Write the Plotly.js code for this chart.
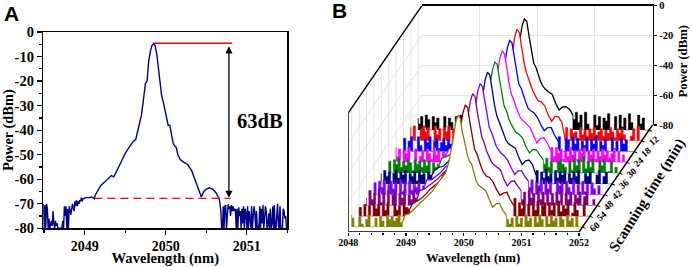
<!DOCTYPE html>
<html><head><meta charset="utf-8">
<script src="https://cdn.plot.ly/plotly-3.0.1.min.js"></script>
<style>html,body{margin:0;padding:0;background:#fff}</style></head>
<body><div id="c" style="width:692px;height:267px"></div>
<script>
// Panel A spectrum
const aWave = [2048.49,2048.50,2048.51,2048.52,2048.53,2048.54,2048.55,2048.56,2048.57,2048.58,2048.59,2048.60,2048.61,2048.62,2048.63,2048.64,2048.65,2048.66,2048.67,2048.68,2048.70,2048.72,2048.73,2048.74,2048.75,2048.76,2048.77,2048.78,2048.79,2048.80,2048.81,2048.82,2048.83,2048.84,2048.85,2048.86,2048.87,2048.88,2048.89,2048.90,2048.91,2048.92,2048.93,2048.94,2048.95,2048.96,2048.97,2048.98,2049.00,2049.02,2049.05,2049.08,2049.10,2049.12,2049.13,2049.16,2049.20,2049.25,2049.30,2049.33,2049.36,2049.40,2049.45,2049.50,2049.55,2049.60,2049.63,2049.66,2049.70,2049.72,2049.74,2049.75,2049.77,2049.79,2049.81,2049.83,2049.85,2049.87,2049.89,2049.91,2049.93,2049.95,2049.97,2049.99,2050.01,2050.03,2050.05,2050.07,2050.09,2050.11,2050.13,2050.15,2050.18,2050.22,2050.27,2050.32,2050.36,2050.40,2050.44,2050.47,2050.50,2050.54,2050.58,2050.62,2050.66,2050.67,2050.68,2050.69,2050.70,2050.71,2050.72,2050.73,2050.74,2050.75,2050.76,2050.77,2050.78,2050.79,2050.80,2050.81,2050.82,2050.83,2050.84,2050.85,2050.86,2050.87,2050.88,2050.89,2050.90,2050.91,2050.92,2050.93,2050.94,2050.95,2050.96,2050.97,2050.98,2050.99,2051.00,2051.01,2051.02,2051.03,2051.04,2051.05,2051.06,2051.07,2051.08,2051.09,2051.10,2051.11,2051.12,2051.13,2051.14,2051.15,2051.16,2051.17,2051.18,2051.19,2051.20,2051.21,2051.22,2051.23,2051.24,2051.25,2051.26,2051.27,2051.28,2051.29,2051.30,2051.31,2051.32,2051.33,2051.34,2051.35,2051.36,2051.37,2051.38,2051.39,2051.40,2051.41,2051.42,2051.43,2051.44,2051.45,2051.46,2051.47,2051.48,2051.49];
const aPower = [-70,-80,-70.5,-80,-70,-72,-80,-76,-80,-78,-77,-79,-73,-78,-80,-77,-79,-78,-80,-80,-80,-80,-77,-80,-71,-75,-71,-80,-72,-80,-71,-73,-74.5,-72,-70,-72,-73,-69,-71,-68.5,-71,-69,-70,-68.5,-69,-67.5,-69,-68,-67.7,-67.4,-67.6,-67.2,-67.5,-68,-66.5,-64.5,-62.5,-61,-59.2,-58.5,-59,-56.5,-53,-49.5,-47,-44.5,-43.8,-40,-34,-29,-24,-21,-20,-12,-8,-5.5,-4.8,-5.5,-9,-14,-21,-26,-28.5,-32,-36,-38,-38,-41,-45,-46.5,-47,-50,-52,-53,-54,-56.5,-60,-64,-67.2,-65,-64,-63.5,-64,-65.5,-68,-70,-73,-80,-80,-71,-80,-71,-70.5,-80,-71,-70.2,-72,-71,-75,-70.5,-73,-71,-73,-72,-72.5,-80,-72,-80,-71.5,-75,-73,-80,-72,-78,-71,-80,-72,-74,-80,-71,-80,-73,-76,-80,-71,-80,-75,-71,-74,-80,-73,-80,-79,-80,-71,-80,-72,-78,-70.5,-80,-76,-71,-73,-80,-79,-74,-80,-72,-80,-78,-71,-80,-70.5,-80,-80,-76,-70,-79,-80,-71,-80,-80,-80,-72,-73,-76,-75,-80];
const floorLine = [2049.12,2050.80];
const floorLevel = [-67.8,-67.8];
const topLine = [2049.84,2050.82];
const topLevel = [-4.6,-4.6];

// Panel B waterfall: wavelength grid and one spectrum per scanning time
const bWave = [2048,2048.04,2048.08,2048.12,2048.16,2048.2,2048.24,2048.28,2048.32,2048.36,2048.4,2048.44,2048.48,2048.52,2048.56,2048.6,2048.64,2048.68,2048.72,2048.76,2048.8,2048.84,2048.88,
2048.92,2049,2049.08,2049.16,2049.24,2049.32,2049.4,2049.48,2049.56,2049.62,2049.68,2049.72,2049.76,2049.8,2049.84,2049.88,2049.92,2049.96,2050,2050.04,2050.08,2050.12,2050.16,2050.2,2050.26,2050.32,2050.38,2050.44,2050.5,2050.56,2050.62,
2050.68,2050.72,2050.76,2050.8,2050.84,2050.88,2050.92,2050.96,2051,2051.04,2051.08,2051.12,2051.16,2051.2,2051.24,2051.28,2051.32,2051.36,2051.4,2051.44,2051.48,2051.52,2051.56,2051.6,2051.64,2051.68,2051.72,2051.76,2051.8,2051.84,2051.88,2051.92,2051.96,2052];
const s6 = [-72,-76,-71,-80,-70,-73,-80,-71,-75,-72,-80,-80,-71,-80,-72,-75,-80,-71,-76,-70,-74,-72,-73,-69,-68,-67,-64.5,-61.5,-59,-56.5,-51,-46.5,-44,-37,-29,-20.5,-10,-5.5,-7,-17,-27,-35,-38,-43,-47.5,-50.5,-52.5,-54.5,-56,-62,-66.5,-64.5,-64.4,-66,-70,-73,-68,-75,-70,-80,-68,-76,-80,-80,-70,-77,-71,-80,-72,-74,-69,-80,-80,-71,-80,-70,-78,-72,-80,-69,-75,-80,-80,-70,-76,-72,-80,-80];
const s12 = [-71,-80,-70,-80,-80,-72,-70,-74,-71,-80,-80,-70,-76,-72,-80,-71,-74,-70,-80,-72,-75,-71,-72,-70,-69,-67.5,-65,-62,-59,-56,-51.5,-47,-44,-37.5,-29.5,-21,-10.5,-5,-7.5,-17.5,-27,-34,-38.5,-43.5,-47,-50,-53,-54,-56.5,-62.5,-67,-63.5,-64,-68,-80,-71,-80,-72,-75,-74,-79,-71,-76,-73,-77,-72,-75,-71,-76,-74,-72,-77,-73,-75,-71,-74,-78,-72,-75,-72,-76,-80,-80,-77,-72,-80,-70,-80];
const s18 = [-80,-71,-80,-73,-70,-80,-80,-70,-76,-80,-72,-74,-70,-80,-73,-71,-78,-74,-71,-76,-72,-75,-73,-71,-69,-68,-65,-61,-58.5,-56,-51,-47,-44.5,-36.5,-29,-20,-10.5,-5.5,-7,-16.5,-26.5,-35,-37.5,-43,-47,-51,-52.5,-54,-57,-62,-66,-64,-64,-69,-73,-70,-80,-80,-71,-72,-80,-70,-75,-71,-80,-73,-76,-71,-80,-72,-75,-70,-80,-73,-76,-72,-80,-80,-71,-78,-73,-80,-71,-75,-72,-80,-80,-80];
const s24 = [-70,-76,-71,-80,-72,-74,-70,-80,-80,-71,-80,-76,-72,-80,-71,-74,-78,-70,-75,-72,-80,-73,-74,-71,-70,-67,-64.5,-62,-59,-56.5,-50.5,-46.5,-43.5,-37,-28.5,-20.5,-10,-5,-7.5,-17,-27.5,-34.5,-38,-43,-47.5,-50.5,-52,-54.5,-56.5,-62,-67,-64,-63.5,-67,-72,-70,-76,-70,-74,-71,-78,-72,-76,-70,-75,-72,-78,-71,-74,-70,-80,-72,-75,-71,-78,-73,-76,-71,-75,-72,-77,-74,-71,-80,-73,-80,-75,-80];
const s30 = [-75,-72,-80,-71,-74,-70,-76,-72,-75,-71,-73,-78,-71,-74,-72,-76,-71,-75,-72,-80,-73,-76,-74,-70,-69,-67,-65,-61.5,-58.5,-56,-51,-47,-44,-37,-29,-21,-10.5,-5.5,-7,-17,-27,-35,-38,-43.5,-47,-50,-52.5,-54,-56.5,-62.5,-66.5,-64,-64.5,-68,-71,-74,-70,-76,-72,-80,-80,-72,-71,-74,-76,-80,-72,-78,-70,-75,-71,-80,-69,-77,-72,-76,-71,-80,-80,-72,-75,-71,-80,-79,-72,-80,-76,-80];
const s36 = [-73,-80,-71,-75,-72,-80,-73,-71,-76,-72,-74,-71,-80,-73,-75,-72,-78,-71,-74,-73,-80,-72,-74,-71,-69,-68,-65,-62,-59,-56,-51.5,-46.5,-44,-37.5,-29,-20.5,-10,-5,-7,-16.5,-27,-34,-38,-43,-47,-50.5,-53,-54.5,-56,-62,-67,-64.5,-64,-67,-74,-71,-80,-72,-76,-70,-75,-73,-80,-71,-76,-72,-74,-71,-80,-73,-76,-72,-75,-71,-80,-80,-73,-75,-72,-80,-80,-74,-71,-80,-75,-72,-80,-80];
const s42 = [-80,-72,-80,-71,-75,-70,-80,-73,-71,-76,-72,-80,-70,-78,-72,-80,-71,-77,-73,-75,-72,-80,-74,-70,-70,-67.5,-65,-61.5,-59,-56.5,-51,-47,-44,-37,-29.5,-21,-10.5,-5.5,-7.5,-17,-26.5,-35,-38.5,-43,-47.5,-50,-52,-54,-57,-62,-66.5,-64,-64,-68,-71,-75,-70,-80,-72,-74,-70,-80,-71,-76,-72,-80,-80,-71,-74,-72,-80,-71,-75,-80,-70,-80,-73,-80,-71,-78,-73,-80,-72,-76,-80,-74,-80,-80];
const s48 = [-75,-80,-70,-76,-72,-80,-69,-78,-72,-80,-70,-80,-73,-71,-80,-72,-75,-70,-80,-73,-76,-71,-75,-70,-69,-67,-64.5,-62,-58.5,-56,-51,-46.5,-44.5,-36.5,-29,-20.5,-10,-5,-7,-17.5,-27,-34.5,-38,-43.5,-47,-50.5,-52.5,-54.5,-56,-62.5,-67,-64,-63.5,-67,-70,-76,-71,-80,-70,-75,-72,-80,-69,-76,-71,-80,-70,-78,-72,-80,-71,-77,-70,-80,-72,-76,-71,-80,-73,-75,-71,-80,-74,-72,-80,-80,-76,-80];
const s54 = [-80,-74,-80,-72,-80,-73,-80,-71,-75,-72,-80,-73,-76,-71,-80,-80,-72,-76,-73,-80,-71,-74,-75,-72,-70,-68,-65,-61.5,-59,-56.5,-50.5,-47,-44,-37,-29,-21,-10.5,-5.5,-7,-17,-27,-35,-38,-43,-47.5,-51,-53,-54,-57,-62,-66,-64.5,-64,-69,-73,-68,-80,-71,-75,-70,-80,-72,-80,-71,-76,-70,-80,-73,-71,-80,-72,-76,-71,-80,-70,-77,-73,-75,-72,-80,-78,-71,-76,-80,-80,-72,-80,-80];
const s60 = [-72,-74,-80,-80,-73,-78,-80,-75,-72,-80,-80,-74,-80,-73,-76,-80,-72,-75,-73,-76,-74,-72,-77,-72,-71,-68,-65,-62,-59.5,-56,-51,-47,-44,-37,-29,-20.5,-10,-5,-7,-17,-23.5,-31,-36,-38,-44,-49.5,-52,-54,-55.5,-61,-66.8,-64.5,-64,-69,-72,-75,-78,-74,-80,-73,-78,-74,-80,-72,-76,-74,-80,-73,-77,-72,-75,-80,-73,-78,-72,-76,-74,-80,-73,-75,-80,-72,-76,-74,-80,-73,-80,-80];
const spectra = [s6,s12,s18,s24,s30,s36,s42,s48,s54,s60];
const times = [6,12,18,24,30,36,42,48,54,60];
const colors = ['#000000','#ff0000','#0000ff','#ff00ff','#008000','#000080','#8000ff','#800080','#800000','#808000'];
const powerTicks = [0,-20,-40,-60,-80];
const waveTicks = [2048,2049,2050,2051,2052];
const noiseLeftEnd = 2048.88, noiseRightStart = 2050.68;

// Oblique projection of (wavelength, time, power) on the plane of the waterfall axes
const frontTime = 62.8, backTime = 3.2;
const project = (w,t,p) => ({x: w+(frontTime-t)*0.02135, y: p+(frontTime-t)*1.205});
const serif = 'Liberation Serif, Times New Roman, serif';
const px = (a,b) => [a/692,b/692];
const py = (top,bot) => [1-bot/267,1-top/267];

const traces = [];
// Panel A
traces.push({x:aWave,y:aPower,xaxis:'x',yaxis:'y',mode:'lines',line:{color:'#00008b',width:1.4}});
traces.push({x:topLine,y:topLevel,xaxis:'x',yaxis:'y',mode:'lines',line:{color:'#ff0000',width:1.6}});
traces.push({x:floorLine,y:floorLevel,xaxis:'x',yaxis:'y',mode:'lines',line:{color:'#ff0000',width:1.4,dash:'8px 5px'}});

// Panel B back wall: only needs a subplot of its own
traces.push({x:[2048,2052],y:[-80,0],xaxis:'x2',yaxis:'y2',mode:'none',hoverinfo:'skip'});

// Panel B left wall grid
const gx=[],gy=[];
times.forEach(t=>{const a=project(2048,t,-80),b=project(2048,t,0);gx.push(a.x,b.x,null);gy.push(a.y,b.y,null);});
[-20,-40,-60].forEach(p=>{const a=project(2048,frontTime,p),b=project(2048,backTime,p);gx.push(a.x,b.x,null);gy.push(a.y,b.y,null);});
traces.push({x:gx,y:gy,xaxis:'x3',yaxis:'y3',mode:'lines',line:{color:'#e4e4e4',width:1},hoverinfo:'skip'});

// Panel B spectra, back to front: white under the signal, stepped bars in the noise floors
spectra.forEach((s,i)=>{
  const t=times[i];
  const pts=bWave.map((w,k)=>project(w,t,s[k]));
  const b0=project(bWave[0],t,-80), b1=project(bWave[bWave.length-1],t,-80);
  traces.push({x:[b0.x,...pts.map(q=>q.x),b1.x],y:[b0.y,...pts.map(q=>q.y),b1.y],xaxis:'x3',yaxis:'y3',mode:'lines',line:{width:0,color:'#fff'},fill:'toself',fillcolor:'#ffffff',hoverinfo:'skip'});
  const nx=[],ny=[];
  const band=(test)=>{
    const idx=bWave.map((w,k)=>k).filter(k=>test(bWave[k]));
    const a=project(bWave[idx[0]],t,-80), b=project(bWave[idx[idx.length-1]],t,-80);
    nx.push(a.x,...idx.map(k=>pts[k].x),b.x,null);
    ny.push(a.y,...idx.map(k=>pts[k].y),b.y,null);
  };
  band(w=>w<=noiseLeftEnd);
  band(w=>w>=noiseRightStart);
  traces.push({x:nx,y:ny,xaxis:'x3',yaxis:'y3',mode:'lines',line:{width:0.5,color:colors[i],shape:'vh'},fill:'toself',fillcolor:colors[i],hoverinfo:'skip'});
  const sig=bWave.map((w,k)=>k).filter(k=>bWave[k]>=noiseLeftEnd&&bWave[k]<=noiseRightStart);
  traces.push({x:sig.map(k=>pts[k].x),y:sig.map(k=>pts[k].y),xaxis:'x3',yaxis:'y3',mode:'lines',line:{color:colors[i],width:1.3}});
});

// Panel B frame lines
const edge=(pts)=>{const q=pts.map(a=>project(a[0],a[1],a[2]));traces.push({x:q.map(o=>o.x),y:q.map(o=>o.y),xaxis:'x3',yaxis:'y3',mode:'lines',line:{color:'#000',width:1.4},hoverinfo:'skip'});};
edge([[2048,frontTime,0],[2048,frontTime,-80],[2052,frontTime,-80],[2052,backTime,-80]]);
edge([[2048,frontTime,0],[2048,backTime,0]]);
// Time ticks on the oblique axis
const tx=[],ty=[];
times.forEach(t=>{const a=project(2052,t,-80);tx.push(a.x,a.x+0.05,null);ty.push(a.y,a.y-0.9,null);});
traces.push({x:tx,y:ty,xaxis:'x3',yaxis:'y3',mode:'lines',line:{color:'#000',width:1},hoverinfo:'skip'});

const mid={xanchor:'center',yanchor:'middle',showarrow:false};
const annotations=[
 {...mid,xref:'paper',yref:'paper',x:11/692,y:1-13/267,text:'A',font:{family:'Liberation Sans, Arial',size:21,color:'#000',weight:'bold'}},
 {...mid,xref:'paper',yref:'paper',x:339/692,y:1-11/267,text:'B',font:{family:'Liberation Sans, Arial',size:21,color:'#000',weight:'bold'}},
 {xref:'x',yref:'y',x:2050.78,y:-67.6,ax:2050.78,ay:-5.2,axref:'x',ayref:'y',text:'',showarrow:true,arrowhead:2,startarrowhead:2,arrowside:'end+start',arrowsize:1.1,arrowwidth:1.3,arrowcolor:'#000'},
 {...mid,xref:'paper',yref:'paper',x:259.7/692,y:1-120.7/267,text:'63dB',font:{family:serif,size:20.5,color:'#000',weight:'bold'}},
 {...mid,xref:'paper',yref:'paper',x:473/692,y:1-258/267,text:'Wavelength (nm)',font:{family:serif,size:12.8,color:'#000',weight:'bold'}},
 {...mid,xref:'paper',yref:'paper',x:682.5/692,y:1-61/267,text:'Power (dBm)',textangle:-90,font:{family:serif,size:12.8,color:'#000',weight:'bold'}},
 {...mid,xref:'paper',yref:'paper',x:647/692,y:1-195/267,text:'Scanning time (min)',textangle:-58,font:{family:serif,size:15,color:'#000',weight:'bold'}}
];
times.forEach(t=>{const a=project(2052,t,-80);annotations.push({...mid,xref:'x3',yref:'y3',x:a.x+0.21,y:a.y,text:String(t),textangle:-40,font:{family:serif,size:9.5,color:'#000',weight:'bold'}});});

const tick=(s)=>({family:serif,size:s,color:'#000',weight:'bold'});
const layout={
 width:692,height:267,margin:{l:0,r:0,t:0,b:0},showlegend:false,paper_bgcolor:'#fff',plot_bgcolor:'rgba(0,0,0,0)',hovermode:false,
 annotations,
 xaxis:{domain:px(43.3,287.3),anchor:'y',range:[2048.49,2051.5],tickvals:[2049,2050,2051],ticktext:['2049','2050','2051'],ticks:'outside',ticklen:5,tickwidth:1.3,tickcolor:'#000',minor:{tickvals:[2048.5,2049.5,2050.5,2051.5],ticks:'outside',ticklen:3,tickcolor:'#000'},showline:true,linecolor:'#000',linewidth:1.5,mirror:true,showgrid:false,zeroline:false,tickfont:tick(14),ticklabelstandoff:-1,title:{text:'Wavelength (nm)',font:tick(14.6),standoff:0}},
 yaxis:{domain:py(32,228.3),anchor:'x',range:[-80,0],tickvals:[0,-10,-20,-30,-40,-50,-60,-70,-80],ticktext:['0','-10','-20','-30','-40','-50','-60','-70','-80'],ticks:'outside',ticklen:5,tickwidth:1.3,tickcolor:'#000',minor:{tickvals:[-5,-15,-25,-35,-45,-55,-65,-75],ticks:'outside',ticklen:3,tickcolor:'#000'},showline:true,linecolor:'#000',linewidth:1.5,mirror:true,showgrid:false,zeroline:false,tickfont:tick(14.5),title:{text:'Power (dBm)',font:tick(14.4),standoff:2}},
 xaxis2:{domain:px(421.7,652.7),anchor:'y2',side:'top',range:[2048,2052],tickvals:waveTicks,showticklabels:false,ticks:'',showline:true,linecolor:'#000',linewidth:1.4,showgrid:true,gridcolor:'#e4e4e4',gridwidth:1,zeroline:false},
 yaxis2:{domain:py(5.7,125),anchor:'x2',side:'right',range:[-80,0],tickvals:powerTicks,ticktext:['0','-20','-40','-60','-80'],ticks:'outside',ticklen:3,tickwidth:1.2,tickcolor:'#000',showline:true,linecolor:'#000',linewidth:1.4,showgrid:true,gridcolor:'#e4e4e4',gridwidth:1,zeroline:false,tickfont:tick(10.5)},
 xaxis3:{domain:px(348.3,660),anchor:'y3',range:[2048,2048+311.7/57.7],tickvals:waveTicks,ticktext:waveTicks.map(String),ticks:'outside',ticklen:3,tickwidth:1.2,tickcolor:'#000',minor:{tickvals:[2048.2,2048.4,2048.6,2048.8,2049.2,2049.4,2049.6,2049.8,2050.2,2050.4,2050.6,2050.8,2051.2,2051.4,2051.6,2051.8],ticks:'outside',ticklen:2,tickcolor:'#000'},showline:false,showgrid:false,zeroline:false,tickfont:tick(10),ticklabelstandoff:-2},
 yaxis3:{domain:py(5.7,232),anchor:'x3',range:[-80,-80+226.3/1.49],visible:false,showgrid:false,zeroline:false}
};
Plotly.newPlot('c',traces,layout,{displayModeBar:false,staticPlot:true});
</script></body></html>
